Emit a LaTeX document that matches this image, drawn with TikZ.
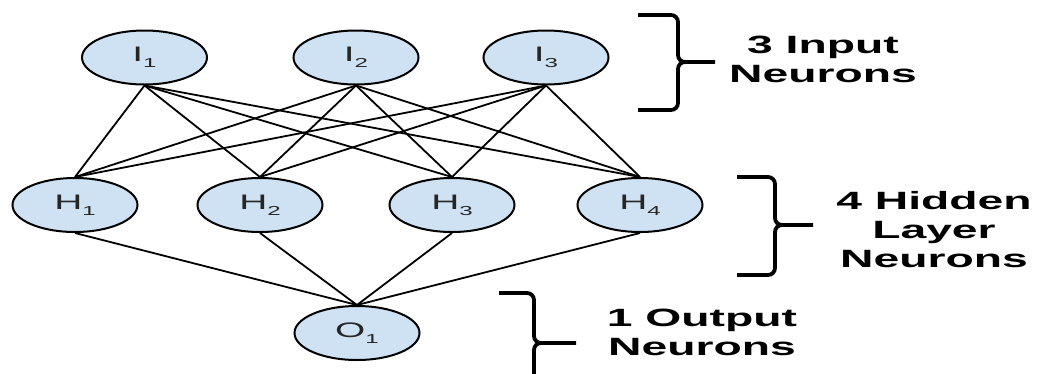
\documentclass[tikz,border=0pt]{standalone}
\usepackage{fontspec}
\usepackage{graphicx}
\setmainfont{Liberation Sans}
\usetikzlibrary{shapes.geometric}
\definecolor{nfill}{HTML}{CFE2F3}
\newcommand\neulbl[2]{\scalebox{1.85}[1]{#1\raisebox{-6pt}{\fontsize{13}{13}\selectfont #2}}}
\newcommand\sidelbl[1]{\scalebox{1.85}[1]{\begin{tabular}{@{}c@{}}#1\end{tabular}}}
\begin{document}
\begin{tikzpicture}[x=1pt,y=-1pt,
  neuron/.style={ellipse, draw=black, line width=2pt, fill=nfill,
    minimum width=125pt, minimum height=54pt, inner sep=0pt,
    font=\fontsize{21}{21}\selectfont, text=black!85},
  link/.style={line width=1.8pt},
  bracepath/.style={line width=3.8pt},
  sidetext/.style={font=\bfseries\fontsize{25}{29}\selectfont, inner sep=0pt}]
\useasboundingbox (0,0) rectangle (1037,373);

% neurons
\node[neuron] (I1) at (144.5,57.5) {\neulbl{I}{1}};
\node[neuron] (I2) at (356,57.5) {\neulbl{I}{2}};
\node[neuron] (I3) at (546,57.5) {\neulbl{I}{3}};
\node[neuron] (H1) at (75,205) {\neulbl{H}{1}};
\node[neuron] (H2) at (260,205) {\neulbl{H}{2}};
\node[neuron] (H3) at (452,205) {\neulbl{H}{3}};
\node[neuron] (H4) at (640,205) {\neulbl{H}{4}};
\node[neuron] (O1) at (357,333) {\neulbl{O}{1}};

% connectors
\foreach \i in {I1,I2,I3}
  \foreach \h in {H1,H2,H3,H4}
    \draw[link] (\i.south) -- (\h.north);
\foreach \h in {H1,H2,H3,H4}
  \draw[link] (\h.south) -- (O1.north);

% braces
\draw[bracepath] (638,15) -- (671,15) to[out=0,in=90] (678,22) -- (678,55)
  to[out=-90,in=180] (685,62) -- (715,62);
\draw[bracepath] (638,110) -- (671,110) to[out=0,in=-90] (678,103) -- (678,69)
  to[out=90,in=180] (685,62);
\draw[bracepath] (737,177) -- (768,177) to[out=0,in=90] (775,184) -- (775,218)
  to[out=-90,in=180] (782,225) -- (813,225);
\draw[bracepath] (737,275) -- (768,275) to[out=0,in=-90] (775,268) -- (775,232)
  to[out=90,in=180] (782,225);
\draw[bracepath] (499,293) -- (527,293) to[out=0,in=90] (534,300) -- (534,336)
  to[out=-90,in=180] (541,343) -- (576,343);
\draw[bracepath] (499,393) -- (527,393) to[out=0,in=-90] (534,386) -- (534,350)
  to[out=90,in=180] (541,343);

% side labels
\node[sidetext] (Lin) at (823,62.5) {\sidelbl{3 Input\\Neurons}};
\node[sidetext] (Lhid) at (934,233) {\sidelbl{4 Hidden\\Layer\\Neurons}};
\node[sidetext] (Lout) at (702,335) {\sidelbl{1 Output\\Neurons}};
\end{tikzpicture}
\end{document}
